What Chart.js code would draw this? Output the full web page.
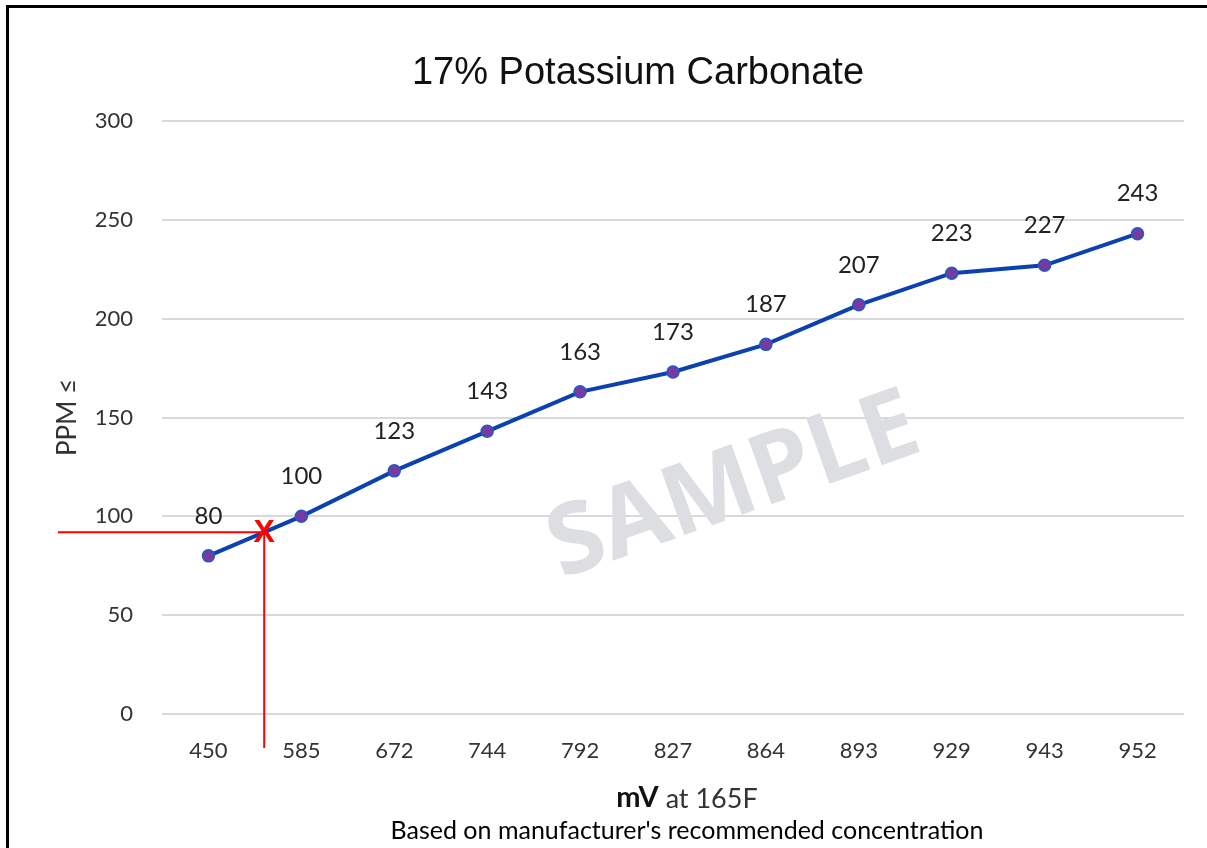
<!DOCTYPE html>
<html>
<head>
<meta charset="utf-8">
<script src="https://cdn.jsdelivr.net/npm/chart.js@4/dist/chart.umd.min.js"></script>
<style>
  html, body { margin: 0; padding: 0; background: #fff; overflow: hidden; }
  #frame {
    position: absolute; left: 6px; top: 5px; width: 1220px; height: 860px;
    border-left: 3px solid #000; border-top: 3px solid #000;
  }
  #wrap { position: absolute; left: 0; top: 0; width: 1207px; height: 848px; }
</style>
</head>
<body>
<div id="frame"></div>
<div id="wrap"><canvas id="potassiumChart"></canvas></div>
<script>
// readings
const mvLabels = ["450", "585", "672", "744", "792", "827", "864", "893", "929", "943", "952"];
const ppmValues = [80, 100, 123, 143, 163, 173, 187, 207, 223, 227, 243];
const yMin = 0;
const yMax = 300;
const yStep = 50;

// the red reading marker (position between 450 and 585, ppm)
const markerIndex = 0.6;
const markerPpm = 92;

const chartTitle = "17% Potassium Carbonate";
const yTitle = "PPM \u2264";
const xTitleBold = "mV";
const xTitleRest = " at 165F";
const footNote = "Based on manufacturer's recommended concentration";
const watermark = "SAMPLE";

const tickFont = { family: "Lato", size: 22 };

// draws the grey watermark behind the line
const watermarkPlugin = {
  id: "watermark",
  beforeDatasetsDraw(chart) {
    const ctx = chart.ctx;
    ctx.save();
    ctx.translate(734, 488);
    ctx.rotate(-19.5 * Math.PI / 180);
    ctx.font = "bold 98px 'Open Sans'";
    ctx.fillStyle = "rgb(221, 222, 225)";
    ctx.textAlign = "center";
    ctx.textBaseline = "middle";
    ctx.fillText(watermark, 0, 0);
    ctx.restore();
  },
};

// value labels, red marker, title and captions
const extrasPlugin = {
  id: "extras",
  afterDatasetsDraw(chart) {
    const ctx = chart.ctx;
    const xs = chart.scales.x;
    const ys = chart.scales.y;
    const meta = chart.getDatasetMeta(0);

    ctx.save();
    ctx.font = "24px Lato";
    ctx.fillStyle = "#222";
    ctx.textAlign = "center";
    ctx.textBaseline = "middle";
    meta.data.forEach((pt, i) => {
      ctx.fillText(String(ppmValues[i]), pt.x, pt.y - 40);
    });

    // red cross-hair
    const mx = xs.getPixelForValue(markerIndex);
    const my = ys.getPixelForValue(markerPpm);
    ctx.strokeStyle = "#ff0000";
    ctx.lineWidth = 2;
    ctx.beginPath();
    ctx.moveTo(ys.left + 8, my);
    ctx.lineTo(mx, my);
    ctx.moveTo(mx, my);
    ctx.lineTo(mx, xs.top + 34);
    ctx.stroke();
    ctx.fillStyle = "#ff0000";
    ctx.font = "bold 32px 'Liberation Sans'";
    ctx.fillText("X", mx, my + 1);

    // title
    ctx.fillStyle = "#111";
    ctx.font = "38px 'Liberation Sans'";
    ctx.fillText(chartTitle, 638, 74);

    // x axis title with bold unit
    const cx = 687;
    ctx.font = "bold 29px Lato";
    const wBold = ctx.measureText(xTitleBold).width;
    ctx.font = "27px Lato";
    const wRest = ctx.measureText(xTitleRest).width;
    let startX = cx - (wBold + wRest) / 2;
    ctx.textAlign = "left";
    ctx.fillStyle = "#111";
    ctx.font = "bold 29px Lato";
    ctx.fillText(xTitleBold, startX, 798);
    ctx.fillStyle = "#333";
    ctx.font = "27px Lato";
    ctx.fillText(xTitleRest, startX + wBold, 799);

    ctx.textAlign = "center";
    ctx.fillStyle = "#000";
    ctx.font = "25px Lato";
    ctx.fillText(footNote, cx, 831);
    ctx.restore();
  },
};

const data = {
  labels: mvLabels,
  datasets: [
    {
      label: "PPM",
      data: ppmValues,
      borderColor: "rgb(12, 66, 175)",
      borderWidth: 4,
      pointRadius: 6,
      pointBackgroundColor: "rgb(120, 58, 160)",
      pointBorderColor: "rgb(30, 90, 200)",
      pointBorderWidth: 1.5,
      tension: 0,
      fill: false,
    },
  ],
};

const config = {
  type: "line",
  data: data,
  options: {
    responsive: false,
    animation: false,
    layout: { padding: { left: 50, top: 121, right: 23, bottom: 0 } },
    scales: {
      x: {
        offset: true,
        grid: { display: false },
        border: { display: false },
        ticks: { color: "#333", font: tickFont, padding: 16 },
        afterFit: (scale) => { scale.height = 134; },
      },
      y: {
        min: yMin,
        max: yMax,
        grid: { color: "#d9d9d9", lineWidth: 2, drawTicks: false },
        border: { display: false },
        ticks: { stepSize: yStep, color: "#333", font: tickFont, padding: 29 },
        title: {
          display: true,
          text: yTitle,
          color: "#333",
          font: { family: "Lato", size: 26 },
          padding: { top: 2, bottom: 0 },
        },
        afterFit: (scale) => { scale.width = 112; },
      },
    },
    plugins: {
      legend: false,
      tooltip: { enabled: false },
    },
  },
  plugins: [watermarkPlugin, extrasPlugin],
};

const canvas = document.getElementById("potassiumChart");
canvas.width = 1207;
canvas.height = 848;
const potassiumChart = new Chart(canvas.getContext("2d"), config);
</script>
</body>
</html>
